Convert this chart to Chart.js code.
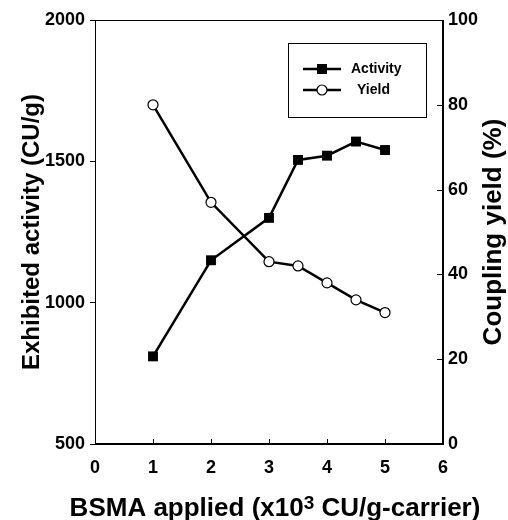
<!DOCTYPE html>
<html>
<head>
<meta charset="utf-8">
<script src="https://cdn.jsdelivr.net/npm/chart.js@4"></script>
<style>
  html, body { margin: 0; padding: 0; background: #fff; }
  #wrap { width: 508px; height: 520px; position: relative; }
</style>
</head>
<body>
<div id="wrap"><canvas id="c"></canvas></div>
<script>
// ---- data ----
const bsmaApplied = [1, 2, 3, 3.5, 4, 4.5, 5];
const activity = [810, 1150, 1300, 1505, 1520, 1570, 1540];
const couplingYield = [80, 57, 43, 42, 38, 34, 31];
const xTickValues = [0, 1, 2, 3, 4, 5, 6];
const leftTickValues = [500, 1000, 1500, 2000];
const rightTickValues = [0, 20, 40, 60, 80, 100];
const seriesNames = ['Activity', 'Yield'];
const xTitleMain = 'BSMA applied (x10';
const xTitleSup = '3';
const xTitleEnd = ' CU/g-carrier)';
const leftTitle = 'Exhibited activity (CU/g)';
const rightTitle = 'Coupling yield (%)';

const FONT = "'Liberation Sans', Arial, Helvetica, sans-serif";

const activityPts = bsmaApplied.map((x, i) => ({ x: x, y: activity[i] }));
const yieldPts = bsmaApplied.map((x, i) => ({ x: x, y: couplingYield[i] }));

function setTicks(values) {
  return function (scale) { scale.ticks = values.map(v => ({ value: v })); };
}
const plain = v => String(v);

const decor = {
  id: 'decor',
  afterDraw(chart) {
    const ctx = chart.ctx;
    const a = chart.chartArea;
    const xs = chart.scales.x, y1 = chart.scales.y1;
    ctx.save();
    ctx.strokeStyle = '#000';
    ctx.lineWidth = 1;
    // frame
    ctx.strokeRect(Math.round(a.left) + 0.5, Math.round(a.top) + 0.5,
                   Math.round(a.right - a.left) - 1, Math.round(a.bottom - a.top) - 1);
    // inside ticks on bottom axis
    ctx.beginPath();
    xTickValues.slice(1, -1).forEach(v => {
      const px = Math.round(xs.getPixelForValue(v)) + 0.5;
      ctx.moveTo(px, a.bottom); ctx.lineTo(px, a.bottom - 5);
    });
    // inside ticks on right axis
    rightTickValues.slice(1, -1).forEach(v => {
      const py = Math.round(y1.getPixelForValue(v)) + 0.5;
      ctx.moveTo(a.right, py); ctx.lineTo(a.right - 6, py);
    });
    ctx.stroke();

    // legend box
    const bx = a.right - 155, by = a.top + 23, bw = 138, bh = 74;
    ctx.strokeRect(Math.round(bx) + 0.5, Math.round(by) + 0.5, bw, bh);
    const rows = [by + 26, by + 47];
    ctx.lineWidth = 2.5;
    rows.forEach((ry, i) => {
      ctx.beginPath();
      ctx.moveTo(bx + 15, ry); ctx.lineTo(bx + 53, ry);
      ctx.stroke();
      const mx = bx + 34;
      if (i === 0) {
        ctx.fillStyle = '#000';
        ctx.fillRect(mx - 5, ry - 5, 10, 10);
      } else {
        ctx.beginPath();
        ctx.lineWidth = 1.2;
        ctx.fillStyle = '#fff';
        ctx.arc(mx, ry, 5, 0, Math.PI * 2);
        ctx.fill(); ctx.stroke();
        ctx.lineWidth = 2.5;
      }
      ctx.fillStyle = '#000';
      ctx.font = "bold 14px " + FONT;
      ctx.textAlign = 'left';
      ctx.textBaseline = 'middle';
      ctx.fillText(seriesNames[i], bx + (i === 0 ? 63 : 69), ry);
    });

    // bottom axis title with superscript
    const big = "bold 26px " + FONT, small = "bold 19px " + FONT;
    ctx.font = big;
    const w1 = ctx.measureText(xTitleMain).width;
    const w3 = ctx.measureText(xTitleEnd).width;
    ctx.font = small;
    const w2 = ctx.measureText(xTitleSup).width;
    const total = w1 + w2 + w3;
    const cx = (a.left + a.right) / 2 + 6;
    let sx = cx - total / 2;
    const base = 516;
    ctx.textAlign = 'left';
    ctx.textBaseline = 'alphabetic';
    ctx.font = big; ctx.fillText(xTitleMain, sx, base); sx += w1;
    ctx.font = small; ctx.fillText(xTitleSup, sx, base - 7); sx += w2;
    ctx.font = big; ctx.fillText(xTitleEnd, sx, base);

    // right axis title, reading bottom to top
    ctx.save();
    ctx.translate(494, (a.top + a.bottom) / 2);
    ctx.rotate(-Math.PI / 2);
    ctx.font = "bold 26px " + FONT;
    ctx.textAlign = 'center';
    ctx.textBaseline = 'middle';
    ctx.fillText(rightTitle, 0, 0);
    ctx.restore();

    ctx.restore();
  }
};

new Chart(document.getElementById('c'), {
  type: 'line',
  data: {
    datasets: [
      {
        label: seriesNames[0],
        data: activityPts,
        yAxisID: 'y',
        borderColor: '#000',
        borderWidth: 2.5,
        backgroundColor: '#000',
        pointStyle: 'rect',
        pointRadius: 7,
        pointBorderWidth: 0,
        pointBackgroundColor: '#000',
        tension: 0
      },
      {
        label: seriesNames[1],
        data: yieldPts,
        yAxisID: 'y1',
        borderColor: '#000',
        borderWidth: 2.5,
        backgroundColor: '#fff',
        pointStyle: 'circle',
        pointRadius: 5,
        pointBorderWidth: 1.2,
        pointBorderColor: '#000',
        pointBackgroundColor: '#fff',
        tension: 0
      }
    ]
  },
  options: {
    responsive: true,
    maintainAspectRatio: false,
    animation: false,
    devicePixelRatio: 1,
    layout: { padding: { top: 20, left: 0, right: 0, bottom: 0 } },
    plugins: { legend: { display: false }, tooltip: { enabled: false } },
    scales: {
      x: {
        type: 'linear',
        min: 0, max: 6,
        afterBuildTicks: setTicks(xTickValues),
        afterFit(s) { s.height = 76; },
        grid: { drawOnChartArea: false, drawTicks: false },
        border: { display: true, color: '#000', width: 1 },
        ticks: { color: '#000', padding: 13, callback: plain, font: { family: FONT, size: 18, weight: 'bold' } },
        title: { display: false }
      },
      y: {
        type: 'linear',
        position: 'left',
        min: 500, max: 2000,
        afterBuildTicks: setTicks(leftTickValues),
        afterFit(s) { s.width = 95; },
        grid: { drawOnChartArea: false, drawTicks: true, tickLength: 5, color: '#000' },
        border: { display: true, color: '#000', width: 1 },
        ticks: { color: '#000', padding: 5, callback: plain, font: { family: FONT, size: 18, weight: 'bold' } },
        title: {
          display: true,
          text: leftTitle,
          color: '#000',
          font: { family: FONT, size: 24, weight: 'bold', lineHeight: 1 },
          padding: { top: 20, bottom: 0 }
        }
      },
      y1: {
        type: 'linear',
        position: 'right',
        min: 0, max: 100,
        afterBuildTicks: setTicks(rightTickValues),
        afterFit(s) { s.width = 65; },
        grid: { drawOnChartArea: false, drawTicks: false },
        border: { display: true, color: '#000', width: 1 },
        ticks: { color: '#000', padding: 5, callback: plain, font: { family: FONT, size: 18, weight: 'bold' } },
        title: { display: false }
      }
    }
  },
  plugins: [decor]
});
</script>
</body>
</html>
